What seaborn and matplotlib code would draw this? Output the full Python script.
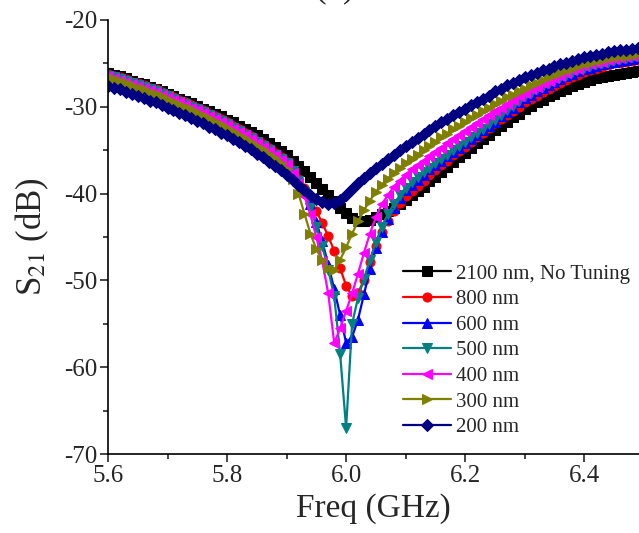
import numpy as np
import pandas as pd
import matplotlib
matplotlib.use("Agg")
import matplotlib.pyplot as plt
from matplotlib.ticker import MultipleLocator
import seaborn as sns

freq = [5.60, 5.61, 5.62, 5.63, 5.64, 5.65, 5.66, 5.67, 5.68, 5.69,
        5.70, 5.71, 5.72, 5.73, 5.74, 5.75, 5.76, 5.77, 5.78, 5.79,
        5.80, 5.81, 5.82, 5.83, 5.84, 5.85, 5.86, 5.87, 5.88, 5.89,
        5.90, 5.91, 5.92, 5.93, 5.94, 5.95, 5.96, 5.97, 5.98, 5.99,
        6.00, 6.01, 6.02, 6.03, 6.04, 6.05, 6.06, 6.07, 6.08, 6.09,
        6.10, 6.11, 6.12, 6.13, 6.14, 6.15, 6.16, 6.17, 6.18, 6.19,
        6.20, 6.21, 6.22, 6.23, 6.24, 6.25, 6.26, 6.27, 6.28, 6.29,
        6.30, 6.31, 6.32, 6.33, 6.34, 6.35, 6.36, 6.37, 6.38, 6.39,
        6.40, 6.41, 6.42, 6.43, 6.44, 6.45, 6.46, 6.47, 6.48, 6.49, 6.50]

s21_2100 = [-26.1, -26.3, -26.5, -26.7, -27.0, -27.2, -27.4, -27.7, -27.9, -28.2,
            -28.5, -28.8, -29.1, -29.3, -29.6, -29.9, -30.2, -30.5, -30.8, -31.1,
            -31.5, -31.8, -32.2, -32.5, -32.9, -33.3, -33.7, -34.2, -34.6, -35.1,
            -35.6, -36.2, -36.8, -37.4, -38.1, -38.8, -39.5, -40.2, -40.9, -41.6,
            -42.2, -42.8, -43.2, -43.2, -43.0, -42.7, -42.4, -42.0, -41.6, -41.2,
            -40.7, -40.2, -39.7, -39.2, -38.6, -38.1, -37.5, -36.9, -36.4, -35.8,
            -35.3, -34.7, -34.2, -33.7, -33.2, -32.7, -32.2, -31.7, -31.2, -30.8,
            -30.3, -29.9, -29.5, -29.2, -28.8, -28.5, -28.2, -27.9, -27.6, -27.4,
            -27.1, -26.9, -26.7, -26.6, -26.4, -26.3, -26.2, -26.1, -26.0, -25.9, -25.8]

s21_800 = [-26.2, -26.4, -26.6, -26.8, -27.1, -27.3, -27.5, -27.8, -28.0, -28.3,
           -28.6, -28.9, -29.2, -29.5, -29.8, -30.1, -30.4, -30.8, -31.1, -31.4,
           -31.8, -32.2, -32.6, -33.0, -33.4, -33.9, -34.3, -34.8, -35.3, -35.8,
           -36.4, -37.3, -38.3, -39.4, -40.7, -42.0, -43.4, -44.9, -46.6, -48.6,
           -50.6, -51.8, -51.4, -50.0, -47.9, -46.0, -44.4, -43.1, -42.0, -41.1,
           -40.3, -39.7, -39.1, -38.5, -37.9, -37.3, -36.7, -36.2, -35.6, -35.1,
           -34.6, -34.0, -33.5, -33.0, -32.4, -31.9, -31.4, -30.9, -30.5, -30.0,
           -29.5, -29.1, -28.7, -28.3, -27.9, -27.6, -27.2, -26.9, -26.6, -26.3,
           -26.0, -25.8, -25.6, -25.4, -25.2, -25.0, -24.9, -24.8, -24.7, -24.6, -24.5]

s21_600 = [-26.3, -26.5, -26.7, -26.9, -27.2, -27.4, -27.6, -27.9, -28.1, -28.4,
           -28.7, -29.0, -29.3, -29.6, -29.9, -30.2, -30.5, -30.9, -31.2, -31.5,
           -31.9, -32.3, -32.7, -33.1, -33.5, -34.0, -34.4, -34.9, -35.4, -35.9,
           -36.4, -37.3, -38.3, -39.5, -41.2, -43.3, -45.5, -48.2, -51.0, -54.0,
           -57.2, -56.5, -54.5, -51.6, -48.7, -46.3, -44.4, -42.9, -41.6, -40.5,
           -39.6, -39.0, -38.4, -37.8, -37.2, -36.7, -36.2, -35.7, -35.2, -34.7,
           -34.2, -33.7, -33.2, -32.7, -32.2, -31.7, -31.1, -30.6, -30.1, -29.5,
           -29.0, -28.6, -28.2, -27.8, -27.5, -27.1, -26.8, -26.5, -26.2, -25.9,
           -25.7, -25.5, -25.3, -25.1, -24.9, -24.8, -24.7, -24.6, -24.5, -24.4, -24.3]

s21_500 = [-26.4, -26.6, -26.8, -27.0, -27.3, -27.5, -27.7, -28.0, -28.2, -28.5,
           -28.8, -29.1, -29.4, -29.7, -30.0, -30.3, -30.6, -31.0, -31.3, -31.6,
           -32.0, -32.4, -32.8, -33.2, -33.6, -34.1, -34.5, -35.0, -35.5, -36.0,
           -36.5, -37.4, -38.5, -39.8, -41.6, -43.8, -46.0, -48.8, -51.8, -58.5,
           -67.0, -55.0, -52.0, -49.8, -47.6, -45.6, -43.8, -42.4, -41.2, -40.2,
           -39.3, -38.7, -38.1, -37.5, -37.0, -36.5, -36.0, -35.5, -35.0, -34.5,
           -34.0, -33.5, -33.0, -32.5, -32.0, -31.5, -30.9, -30.4, -29.9, -29.3,
           -28.8, -28.4, -28.0, -27.6, -27.3, -26.9, -26.6, -26.3, -26.0, -25.7,
           -25.5, -25.3, -25.1, -24.9, -24.8, -24.6, -24.5, -24.4, -24.3, -24.2, -24.1]

s21_400 = [-26.5, -26.7, -26.9, -27.1, -27.4, -27.6, -27.8, -28.1, -28.3, -28.6,
           -28.9, -29.2, -29.5, -29.8, -30.1, -30.4, -30.7, -31.1, -31.4, -31.7,
           -32.1, -32.5, -32.9, -33.3, -33.7, -34.2, -34.6, -35.1, -35.6, -36.1,
           -36.6, -37.6, -38.8, -40.3, -42.4, -45.0, -47.8, -51.5, -57.2, -55.5,
           -53.5, -51.5, -49.2, -46.8, -44.6, -42.7, -41.2, -40.2, -39.2, -38.5,
           -37.8, -37.2, -36.7, -36.2, -35.7, -35.2, -34.7, -34.2, -33.7, -33.3,
           -32.8, -32.3, -31.9, -31.4, -31.0, -30.5, -30.1, -29.7, -29.2, -28.8,
           -28.4, -28.0, -27.7, -27.3, -27.0, -26.7, -26.4, -26.1, -25.8, -25.6,
           -25.3, -25.1, -24.9, -24.8, -24.6, -24.5, -24.4, -24.3, -24.2, -24.1, -24.0]

s21_300 = [-26.6, -26.8, -27.0, -27.3, -27.5, -27.8, -28.0, -28.3, -28.5, -28.8,
           -29.1, -29.4, -29.7, -30.0, -30.3, -30.6, -31.0, -31.3, -31.7, -32.0,
           -32.4, -32.8, -33.2, -33.6, -34.0, -34.5, -34.9, -35.4, -35.9, -36.5,
           -37.2, -38.3, -40.0, -42.3, -44.6, -46.4, -47.7, -48.6, -48.8, -47.6,
           -46.2, -44.6, -43.2, -41.9, -40.8, -39.8, -39.0, -38.3, -37.6, -37.0,
           -36.5, -36.0, -35.5, -35.0, -34.5, -34.0, -33.5, -33.1, -32.6, -32.2,
           -31.8, -31.3, -30.9, -30.5, -30.1, -29.7, -29.3, -28.9, -28.6, -28.2,
           -27.9, -27.5, -27.2, -26.9, -26.6, -26.3, -26.1, -25.8, -25.6, -25.3,
           -25.1, -24.9, -24.7, -24.6, -24.4, -24.3, -24.2, -24.1, -24.0, -23.9, -23.8]

s21_200 = [-27.6, -27.8, -28.0, -28.3, -28.5, -28.8, -29.0, -29.3, -29.5, -29.8,
           -30.1, -30.4, -30.7, -31.0, -31.3, -31.6, -31.9, -32.3, -32.6, -33.0,
           -33.3, -33.7, -34.1, -34.5, -34.9, -35.4, -35.8, -36.3, -36.8, -37.3,
           -37.8, -38.4, -39.0, -39.6, -40.1, -40.6, -41.0, -41.2, -41.1, -40.7,
           -40.1, -39.5, -38.8, -38.2, -37.6, -37.1, -36.6, -36.0, -35.5, -35.0,
           -34.5, -34.0, -33.6, -33.1, -32.7, -32.2, -31.8, -31.4, -31.0, -30.6,
           -30.2, -29.8, -29.4, -29.1, -28.7, -28.2, -27.9, -27.5, -27.2, -26.9,
           -26.6, -26.3, -26.1, -25.8, -25.6, -25.3, -25.1, -24.9, -24.7, -24.5,
           -24.3, -24.2, -24.0, -23.9, -23.7, -23.6, -23.5, -23.4, -23.3, -23.2, -23.1]

labels = ["2100 nm, No Tuning", "800 nm", "600 nm", "500 nm", "400 nm", "300 nm", "200 nm"]
series = [s21_2100, s21_800, s21_600, s21_500, s21_400, s21_300, s21_200]
colors = ["#000000", "#FF0000", "#0000FF", "#008080", "#FF00FF", "#808000", "#000080"]
markers = ["s", "o", "^", "v", "<", ">", "D"]

rows = []
for lab, vals in zip(labels, series):
    for f, v in zip(freq, vals):
        rows.append({"Freq": f, "S21": v, "Gap": lab})
df = pd.DataFrame(rows)

sns.set_style("ticks")
plt.rcParams["font.family"] = ["Liberation Serif", "DejaVu Serif"]
plt.rcParams["mathtext.fontset"] = "stix"
plt.rcParams["axes.unicode_minus"] = False

fig = plt.figure(figsize=(6.39, 5.33), dpi=100)
ax = fig.add_axes([0.169, 0.148, 0.831, 0.8145])

for lab, col, mk in zip(labels, colors, markers):
    sns.lineplot(data=df[df["Gap"] == lab], x="Freq", y="S21", ax=ax, color=col,
                 marker=mk, markersize=6.5, markeredgecolor=col, linewidth=1.6,
                 label=lab, estimator=None, sort=False)

ax.set_xlim(5.6, 6.492)
ax.set_ylim(-70, -20)
ax.xaxis.set_major_locator(MultipleLocator(0.2))
ax.xaxis.set_minor_locator(MultipleLocator(0.1))
ax.yaxis.set_major_locator(MultipleLocator(10))
ax.yaxis.set_minor_locator(MultipleLocator(5))
ax.set_xticks([5.6, 5.8, 6.0, 6.2, 6.4])
ax.set_xticklabels(["5.6", "5.8", "6.0", "6.2", "6.4"])
ax.tick_params(which="major", direction="out", length=6, width=1.2, labelsize=18, pad=2)
ax.tick_params(which="minor", direction="out", length=3.5, width=1.2)
for s in ["top", "right"]:
    ax.spines[s].set_visible(False)
for s in ["left", "bottom"]:
    ax.spines[s].set_linewidth(1.2)
    ax.spines[s].set_color("black")

ax.set_xlabel("Freq (GHz)", fontsize=24, labelpad=4)
ax.set_ylabel("S$_{21}$ (dB)", fontsize=25, labelpad=9)

ax.legend(loc="upper left", bbox_to_anchor=(0.556, 0.438), frameon=False,
          fontsize=15, handlelength=2.3, handletextpad=0.25, labelspacing=0.29,
          borderpad=0, borderaxespad=0)

fig.text(335 / 639, 1 - 5 / 533, "(b)", fontsize=25, ha="center", va="bottom")

fig.savefig("out.png", dpi=100)
